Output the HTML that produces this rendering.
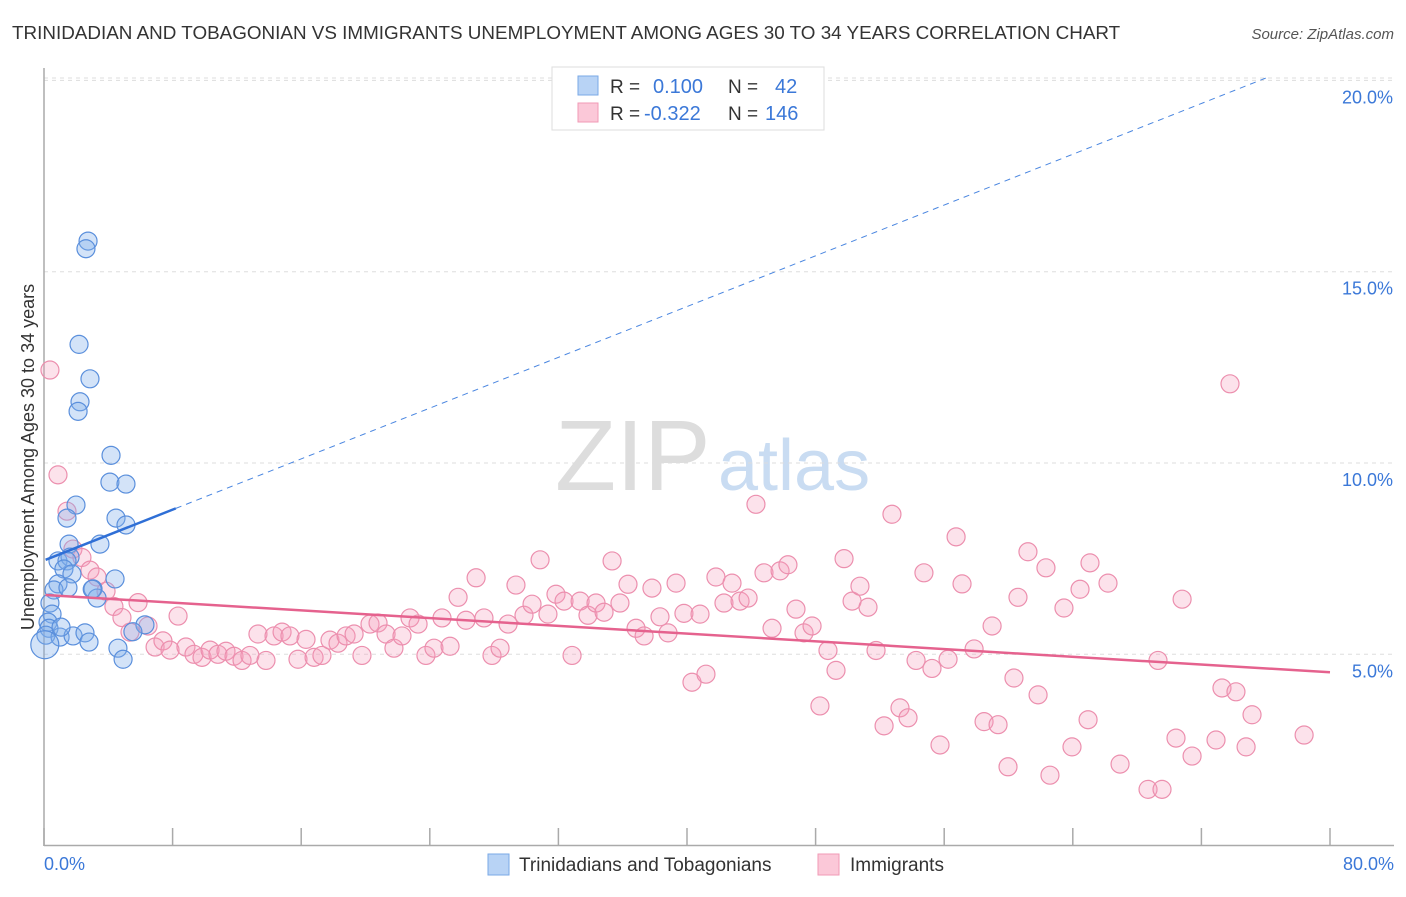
<!DOCTYPE html>
<html><head><meta charset="utf-8"><style>
body{margin:0;background:#fff;font-family:"Liberation Sans",sans-serif;}
svg text{font-family:"Liberation Sans",sans-serif;}
</style></head><body>
<svg id="chart" width="1406" height="892" viewBox="0 0 1406 892">
<text x="12" y="39" font-size="18.85" fill="#333">TRINIDADIAN AND TOBAGONIAN VS IMMIGRANTS UNEMPLOYMENT AMONG AGES 30 TO 34 YEARS CORRELATION CHART</text>
<text x="1394" y="39" font-size="15" fill="#555" font-style="italic" text-anchor="end">Source: ZipAtlas.com</text>
<text x="555" y="490" font-size="100" fill="#ddd" font-family="Liberation Serif">ZIP</text>
<text x="718" y="490" font-size="72" fill="#c9dcf2">atlas</text>
<g id="grid"></g>
<line x1="44" y1="68" x2="44" y2="846" stroke="#aaa" stroke-width="1.5"/>
<line x1="44" y1="845.5" x2="1394" y2="845.5" stroke="#aaa" stroke-width="1.5"/>
<text transform="translate(34,457) rotate(-90)" font-size="18" fill="#333" text-anchor="middle">Unemployment Among Ages 30 to 34 years</text>
<text x="44" y="870" font-size="18" fill="#3b78d8">0.0%</text>
<text x="1394" y="870" font-size="18" fill="#3b78d8" text-anchor="end">80.0%</text>
<g id="pts"></g>
<g id="trends"></g>
<g>
<rect x="552" y="67" width="272" height="63" fill="#fff" stroke="#ddd"/>
<rect x="578" y="76" width="20" height="19" fill="#b8d3f5" stroke="#7aa8e6"/>
<rect x="578" y="103" width="20" height="19" fill="#fbc8d8" stroke="#f09ab6"/>
<text x="610" y="93" font-size="19" fill="#333">R =</text>
<text x="653" y="93" font-size="20" fill="#3b78d8">0.100</text>
<text x="728" y="93" font-size="19" fill="#333">N =</text>
<text x="775" y="93" font-size="20" fill="#3b78d8">42</text>
<text x="610" y="120" font-size="19" fill="#333">R =</text>
<text x="644" y="120" font-size="20" fill="#3b78d8">-0.322</text>
<text x="728" y="120" font-size="19" fill="#333">N =</text>
<text x="765" y="120" font-size="20" fill="#3b78d8">146</text>
</g>
<g>
<rect x="488" y="854" width="21" height="21" fill="#b8d3f5" stroke="#7aa8e6"/>
<text x="519" y="871" font-size="19" fill="#333">Trinidadians and Tobagonians</text>
<rect x="818" y="854" width="21" height="21" fill="#fbc8d8" stroke="#f09ab6"/>
<text x="850" y="871" font-size="19" fill="#333">Immigrants</text>
</g>
</svg>
<script>
const yTicks=[5,10,15,20];
const yTickLabels=["5.0%","10.0%","15.0%","20.0%"];
const xTicks=[0,8,16,24,32,40,48,56,64,72,80];
const blueX=[2.74,2.61,2.18,2.86,2.24,2.12,4.17,4.1,5.1,1.99,4.48,1.43,5.1,3.48,1.56,0.87,1.62,1.43,1.24,1.74,0.87,4.42,0.62,1.49,3.05,3.3,0.37,0.5,0.25,0.31,0.12,1.0,1.81,2.55,2.8,6.28,5.53,4.6,4.92,0.05,1.06,3.0];
const blueY=[15.8,15.6,13.1,12.2,11.6,11.35,10.2,9.5,9.45,8.9,8.56,8.56,8.38,7.88,7.88,7.44,7.54,7.44,7.23,7.1,6.84,6.97,6.68,6.74,6.71,6.47,6.34,6.05,5.84,5.68,5.5,5.45,5.48,5.56,5.32,5.77,5.59,5.16,4.87,5.25,5.71,6.7];
const pinkX=[0.37,0.87,1.43,1.80,2.36,2.86,3.30,3.86,4.35,4.85,5.85,5.35,6.47,6.91,7.40,7.84,8.34,8.83,9.33,9.83,10.33,10.82,11.32,11.82,12.32,12.81,13.31,13.81,14.31,14.81,15.30,15.80,16.30,16.80,17.29,17.79,18.29,18.79,19.29,19.78,20.28,20.78,21.28,21.77,22.27,22.77,23.27,23.76,24.26,24.76,25.26,25.76,26.25,26.88,27.37,27.87,28.37,28.87,29.36,29.86,30.36,30.86,31.35,31.85,32.35,32.85,33.35,33.84,34.34,34.84,35.34,35.83,36.33,36.83,37.33,37.82,38.32,38.82,39.32,39.81,40.31,40.81,41.18,41.80,42.30,42.80,43.30,43.80,44.29,44.79,45.29,45.79,46.28,46.78,47.28,47.78,48.27,48.77,49.27,49.77,50.27,50.76,51.26,51.76,52.26,52.75,53.25,53.75,54.25,54.74,55.24,55.74,56.24,56.74,57.11,57.86,58.48,58.98,59.35,59.97,60.34,60.59,61.21,61.84,62.33,62.58,63.45,63.95,64.45,64.95,65.07,66.19,66.94,68.68,69.30,69.55,70.42,70.80,71.42,72.91,73.28,73.78,74.15,74.78,75.15,78.39];
const pinkY=[12.43,9.69,8.74,7.75,7.53,7.2,7.02,6.65,6.25,5.96,6.35,5.58,5.74,5.19,5.35,5.11,6.0,5.19,5.0,4.92,5.11,5.0,5.08,4.95,4.84,4.97,5.53,4.84,5.48,5.58,5.48,4.87,5.39,4.92,4.97,5.37,5.29,5.48,5.53,4.97,5.79,5.82,5.53,5.16,5.48,5.95,5.79,4.97,5.16,5.95,5.21,6.49,5.89,7.0,5.95,4.97,5.16,5.79,6.81,6.02,6.31,7.47,6.05,6.57,6.39,4.97,6.39,6.02,6.34,6.1,7.44,6.34,6.83,5.68,5.48,6.73,5.98,5.56,6.86,6.07,4.27,6.05,4.48,7.02,6.34,6.86,6.39,6.47,8.92,7.13,5.68,7.18,7.34,6.18,5.56,5.74,3.65,5.1,4.58,7.5,6.39,6.78,6.23,5.1,3.13,8.66,3.6,3.34,4.84,7.13,4.63,2.63,4.87,8.07,6.84,5.14,3.24,5.74,3.16,2.06,4.38,6.49,7.68,3.94,7.26,1.84,6.21,2.58,6.7,3.29,7.39,6.86,2.13,1.47,4.84,1.47,2.81,6.44,2.34,2.76,4.12,12.07,4.02,2.58,3.42,2.89];
const blueTrend=[0.1,7.47,76.0,20.06];
const blueSolidEnd=8.2;
const pinkTrend=[0.1,6.55,80.0,4.53];
const sx=v=>44+v*1286/80, sy=v=>845.6-v*38.26;
const NS="http://www.w3.org/2000/svg";
const grid=document.getElementById('grid');
yTicks.forEach((t,i)=>{
 const l=document.createElementNS(NS,'line');
 l.setAttribute('x1',44);l.setAttribute('x2',1394);l.setAttribute('y1',sy(t));l.setAttribute('y2',sy(t));
 l.setAttribute('stroke','#ddd');l.setAttribute('stroke-dasharray','4,4');
 
 
 grid.appendChild(l);
 const tx=document.createElementNS(NS,'text');
 tx.setAttribute('x',1393);tx.setAttribute('y',sy(t)+23);tx.setAttribute('text-anchor','end');
 tx.setAttribute('font-size','18');tx.setAttribute('fill','#3b78d8');tx.textContent=yTickLabels[i];
 
 
 grid.appendChild(tx);
});
{const l=document.createElementNS(NS,'line');
 l.setAttribute('x1',44);l.setAttribute('x2',1394);l.setAttribute('y1',78);l.setAttribute('y2',78);
 l.setAttribute('stroke','#ddd');l.setAttribute('stroke-dasharray','4,4');
 
 
 grid.appendChild(l);}
xTicks.forEach(t=>{
 const l=document.createElementNS(NS,'line');
 l.setAttribute('x1',sx(t));l.setAttribute('x2',sx(t));l.setAttribute('y1',828);l.setAttribute('y2',846);
 l.setAttribute('stroke','#aaa');l.setAttribute('stroke-width','1.5');
 
 
 grid.appendChild(l);
});
const pts=document.getElementById('pts');
function dot(x,y,fill,stroke,name,r){
 const c=document.createElementNS(NS,'circle');
 c.setAttribute('cx',sx(x));c.setAttribute('cy',sy(y));c.setAttribute('r',r||9);
 c.setAttribute('fill',fill);c.setAttribute('stroke',stroke);c.setAttribute('stroke-width','1.2');
 
 
 pts.appendChild(c);
}
pinkX.forEach((x,i)=>dot(x,pinkY[i],'rgba(244,160,190,0.3)','#ec8fae','immigrants-point'));
blueX.forEach((x,i)=>dot(x,blueY[i],'rgba(130,175,235,0.35)','#5a8fdc','trinidadians-point',i==39?14:9));
const tr=document.getElementById('trends');
function line(x1,y1,x2,y2,color,w,dash,name){
 const l=document.createElementNS(NS,'line');
 l.setAttribute('x1',sx(x1));l.setAttribute('y1',sy(y1));l.setAttribute('x2',sx(x2));l.setAttribute('y2',sy(y2));
 l.setAttribute('stroke',color);l.setAttribute('stroke-width',w);if(dash)l.setAttribute('stroke-dasharray',dash);
 
 
 tr.appendChild(l);
}
const bAt=x=>blueTrend[1]+(x-blueTrend[0])*(blueTrend[3]-blueTrend[1])/(blueTrend[2]-blueTrend[0]);
line(blueTrend[0],blueTrend[1],blueSolidEnd,bAt(blueSolidEnd),'#2f6fd6',2.5,null,'trinidadians-trend-line');
line(blueSolidEnd,bAt(blueSolidEnd),blueTrend[2],blueTrend[3],'#4a86e0',1,'6,5','trinidadians-trend-extension');
line(pinkTrend[0],pinkTrend[1],pinkTrend[2],pinkTrend[3],'#e5628e',2.5,null,'immigrants-trend-line');
</script>
</body></html>
